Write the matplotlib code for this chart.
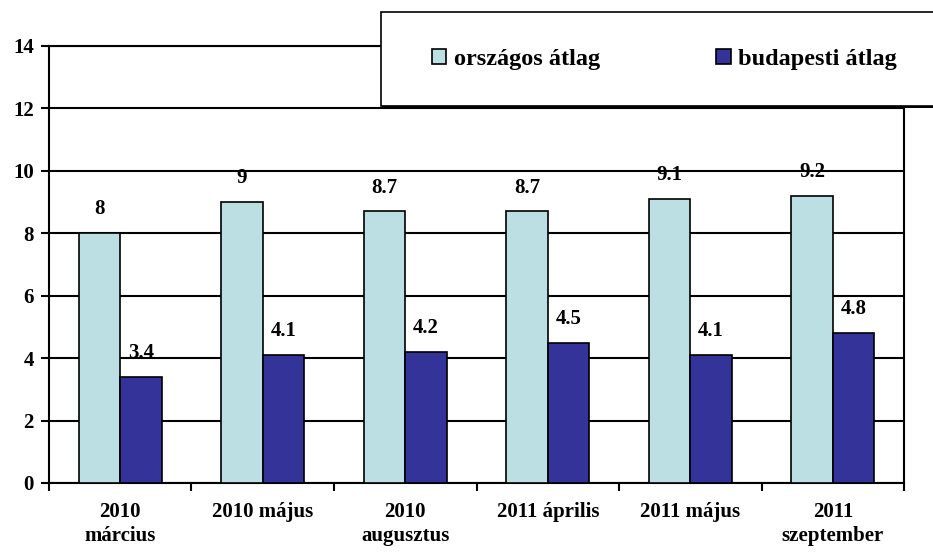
import matplotlib.pyplot as plt
import numpy as np
from matplotlib.patches import Rectangle, Patch

# data
categories = ["2010\nmárcius", "2010 május", "2010\naugusztus",
              "2011 április", "2011 május", "2011\nszeptember"]
orszagos = [8, 9, 8.7, 8.7, 9.1, 9.2]
budapesti = [3.4, 4.1, 4.2, 4.5, 4.1, 4.8]
series_names = ["országos átlag", "budapesti átlag"]

light = "#BBDFE3"
dark = "#333399"

plt.rcParams["font.family"] = ["Liberation Serif", "DejaVu Serif"]
plt.rcParams["font.weight"] = "bold"

fig = plt.figure(figsize=(9.33, 5.52), dpi=100)
ax = fig.add_axes([0.0525, 0.125, 0.9165, 0.7917])

x = np.arange(len(categories))
w = 0.29
b1 = ax.bar(x - w / 2, orszagos, w, color=light, edgecolor="black", linewidth=1.2, zorder=3)
b2 = ax.bar(x + w / 2, budapesti, w, color=dark, edgecolor="black", linewidth=1.2, zorder=3)

for bars, vals in ((b1, orszagos), (b2, budapesti)):
    for rect, v in zip(bars, vals):
        ax.annotate(f"{v:g}", (rect.get_x() + rect.get_width() / 2, v),
                    xytext=(0, 10), textcoords="offset points",
                    ha="center", va="bottom", fontsize=15, fontweight="bold")

ax.set_xlim(-0.5, len(categories) - 0.5)
ax.set_ylim(0, 14)
ax.set_yticks(np.arange(0, 15, 2))
ax.yaxis.grid(True, color="black", linewidth=1.5, zorder=0)
ax.set_axisbelow(True)

ax.set_xticks(x)
ax.set_xticklabels(categories, fontsize=15, fontweight="bold", linespacing=1.25)
ax.tick_params(axis="x", length=0, pad=14)
ax.set_xticks(np.arange(-0.5, len(categories)), minor=True)
ax.tick_params(axis="x", which="minor", length=6, width=1.5, direction="out")
ax.tick_params(axis="y", length=6, width=1.5, labelsize=15, pad=5)
for lab in ax.get_yticklabels():
    lab.set_fontweight("bold")
for sp in ax.spines.values():
    sp.set_linewidth(1.5)

# legend box over the top right of the plot
box_shadow = Rectangle((0.409, 0.805), 0.6, 0.173, transform=fig.transFigure,
                       facecolor="black", edgecolor="none", zorder=5)
box = Rectangle((0.408, 0.808), 0.6, 0.171, transform=fig.transFigure,
                facecolor="white", edgecolor="black", linewidth=1.2, zorder=6)
fig.patches.extend([box_shadow, box])

handles = [Patch(facecolor=light, edgecolor="black", linewidth=1.2),
           Patch(facecolor=dark, edgecolor="black", linewidth=1.2)]
leg = fig.legend(handles, series_names, loc="center", bbox_to_anchor=(0.712, 0.892),
                 ncol=2, frameon=False, handlelength=0.6,
                 handleheight=0.6, handletextpad=0.3, columnspacing=4.8,
                 prop={"weight": "bold", "size": 17.5})
leg.set_zorder(7)

fig.savefig("out.png", dpi=100)
